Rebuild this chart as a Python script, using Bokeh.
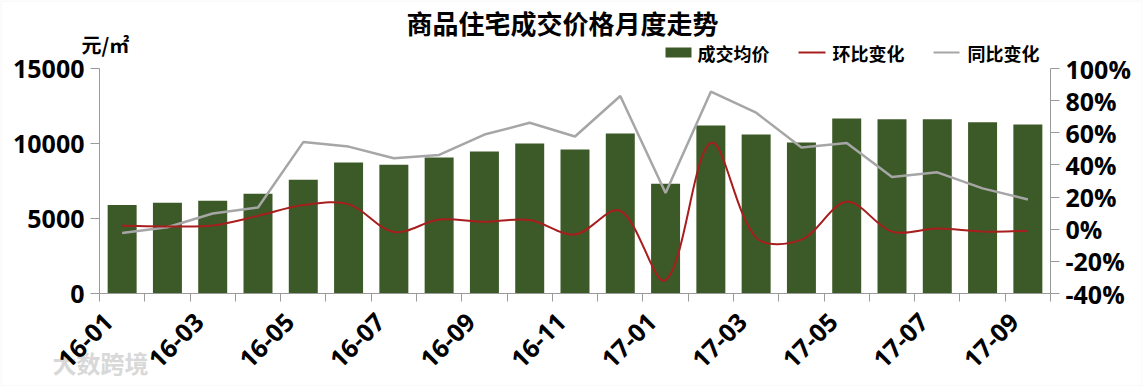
import math
from bokeh.plotting import figure
from bokeh.models import Range1d, LinearAxis, FixedTicker, Label, BoxAnnotation, ColumnDataSource
from bokeh.embed import file_html
from bokeh.resources import INLINE

# ---------------- data ----------------
months = ["16-01", "16-02", "16-03", "16-04", "16-05", "16-06", "16-07", "16-08",
          "16-09", "16-10", "16-11", "16-12", "17-01", "17-02", "17-03", "17-04",
          "17-05", "17-06", "17-07", "17-08", "17-09"]
price = [5900, 6050, 6180, 6650, 7590, 8730, 8590, 9060, 9460, 10000, 9600,
         10670, 7320, 11200, 10600, 10070, 11670, 11610, 11610, 11410, 11270]
mom = [2.1, 1.7, 2.3, 8.3, 15.0, 15.6, -1.7, 6.0, 4.6, 5.8, -3.3,
       11.5, -31.7, 53.7, -5.2, -6.5, 17.1, -1.5, 0.4, -1.5, -1.0]
yoy = [-2.3, 1.2, 9.8, 13.5, 54.2, 51.4, 44.2, 46.2, 58.9, 66.2, 57.7,
       82.9, 22.5, 85.6, 72.5, 50.8, 53.7, 32.5, 35.4, 25.4, 18.5]
left_ticks = [0, 5000, 10000, 15000]
right_ticks = [-40, -20, 0, 20, 40, 60, 80, 100]
title_text = "商品住宅成交价格月度走势"
unit_text = "元/㎡"
legend_names = ["成交均价", "环比变化", "同比变化"]
watermark = "大数跨境"

GREEN = "#3C5A27"
RED = "#A81E1E"
GRAY = "#A6A6A6"
AXIS = "#9A9A9A"
FONT = "Open Sans"
CJK = "Noto Sans CJK SC"

# ---------------- layout (canvas pixels) ----------------
W, H = 1142, 386
PL, PR, PT, PB = 99, 1050, 68, 293   # plot area edges on the canvas

idx = list(range(len(months)))
x_lo, x_hi = -0.5, len(months) - 0.5
y_lo, y_hi = 0, 15000
p_lo, p_hi = -40, 100

ux = (PR - PL) / (x_hi - x_lo)
uy = (PB - PT) / (y_hi - y_lo)
up = (PB - PT) / (p_hi - p_lo)

p = figure(width=W, height=H, output_backend="svg", toolbar_location=None,
           x_axis_location=None, y_axis_location=None,
           x_range=Range1d(x_lo - PL / ux, x_hi + (W - PR) / ux),
           y_range=Range1d(y_lo - (H - PB) / uy, y_hi + PT / uy),
           min_border=0)
p.extra_y_ranges = {"pct": Range1d(p_lo - (H - PB) / up, p_hi + PT / up)}
p.xgrid.visible = False
p.ygrid.visible = False
p.outline_line_color = None
p.background_fill_color = "white"
p.border_fill_color = "white"

# bars
p.vbar(x=idx, top=price, width=0.64, fill_color=GREEN, line_color=None)

# yoy straight line
p.line(idx, yoy, y_range_name="pct", line_color=GRAY, line_width=2.5)

# mom smoothed line: bezier segments through the data points, handles
# split in proportion to the neighbouring segment lengths (as on screen)
n = len(mom)
def scr(i):
    return (idx[i] * ux, mom[i] * up)
h_out, h_in = [], []
for i in range(n):
    a = scr(max(i - 1, 0)); b = scr(i); c = scr(min(i + 1, n - 1))
    tx, ty = c[0] - a[0], c[1] - a[1]
    dp = math.hypot(b[0] - a[0], b[1] - a[1])
    dn = math.hypot(c[0] - b[0], c[1] - b[1])
    s = dp + dn
    fo = dn / s / 3.0
    fi = dp / s / 3.0
    h_out.append((idx[i] + tx * fo / ux, mom[i] + ty * fo / up))
    h_in.append((idx[i] - tx * fi / ux, mom[i] - ty * fi / up))
src = ColumnDataSource(dict(
    x0=idx[:-1], y0=mom[:-1], x1=idx[1:], y1=mom[1:],
    cx0=[h[0] for h in h_out[:-1]], cy0=[h[1] for h in h_out[:-1]],
    cx1=[h[0] for h in h_in[1:]], cy1=[h[1] for h in h_in[1:]]))
p.bezier(x0="x0", y0="y0", x1="x1", y1="y1", cx0="cx0", cy0="cy0", cx1="cx1", cy1="cy1",
         source=src, y_range_name="pct", line_color=RED, line_width=2)

def style_axis(ax, size="25px"):
    ax.axis_line_color = AXIS
    ax.major_tick_line_color = AXIS
    ax.minor_tick_line_color = AXIS
    ax.major_tick_out = 9
    ax.major_tick_in = 0
    ax.minor_tick_out = 0
    ax.minor_tick_in = 0
    ax.major_label_text_font = FONT
    ax.major_label_text_font_style = "bold"
    ax.major_label_text_font_size = size
    ax.major_label_text_color = "black"
    ax.major_label_standoff = 6

# left axis
la = LinearAxis(fixed_location=x_lo, bounds=(y_lo, y_hi), ticker=FixedTicker(ticks=left_ticks))
style_axis(la)
p.add_layout(la, "left")

# right axis
ra = LinearAxis(fixed_location=x_hi, y_range_name="pct", bounds=(p_lo, p_hi),
                ticker=FixedTicker(ticks=right_ticks))
ra.major_label_overrides = {t: f"{t}%" for t in right_ticks}
style_axis(ra)
p.add_layout(ra, "right")

# bottom axis: ticks on category boundaries, labels every second month
shift = -0.3
lab_ticks = [i + shift for i in idx[::2]]
xa = LinearAxis(fixed_location=y_lo, bounds=(x_lo, x_hi),
                ticker=FixedTicker(ticks=lab_ticks, minor_ticks=[i - 0.5 for i in range(len(months) + 1)]))
style_axis(xa, "25px")
xa.major_label_overrides = {t: months[i] for t, i in zip(lab_ticks, idx[::2])}
xa.major_tick_out = 0
xa.minor_tick_out = 8
xa.major_label_orientation = math.pi / 4
xa.major_label_standoff = 16
p.add_layout(xa, "below")

def lab(text, cx, cy, size, align="left", color="black", bold=True, font=CJK, level="annotation"):
    p.add_layout(Label(x=cx, y=H - cy, x_units="screen", y_units="screen", text=text,
                       text_font=font, text_font_size=size, text_align=align,
                       text_baseline="middle", text_color=color, level=level,
                       text_font_style="bold" if bold else "normal"))

def box(l, r, t, b, color):
    p.add_layout(BoxAnnotation(left=l, right=r, top=H - t, bottom=H - b,
                               left_units="screen", right_units="screen",
                               top_units="screen", bottom_units="screen",
                               fill_color=color, fill_alpha=1, line_color=None))

lab(title_text, 562, 22, "26px", align="center")
lab(unit_text, 81, 44, "20px")

box(665, 691, 47, 57, GREEN)
lab(legend_names[0], 697, 52, "18px")
box(798, 825, 51, 53, RED)
lab(legend_names[1], 832, 52, "18px")
box(933, 959, 51, 53, GRAY)
lab(legend_names[2], 967, 52, "18px")

# watermark (behind the axis labels)
lab(watermark, 52, 362, "24px", color="#D8D8D8", level="underlay")

# outer border
p.add_layout(BoxAnnotation(left=0.5, right=W - 0.5, top=H - 0.5, bottom=0.5,
                           left_units="screen", right_units="screen",
                           top_units="screen", bottom_units="screen",
                           fill_alpha=0, line_color="#D9D9D9", line_width=1))

open("out.html", "w").write(file_html(p, INLINE))
